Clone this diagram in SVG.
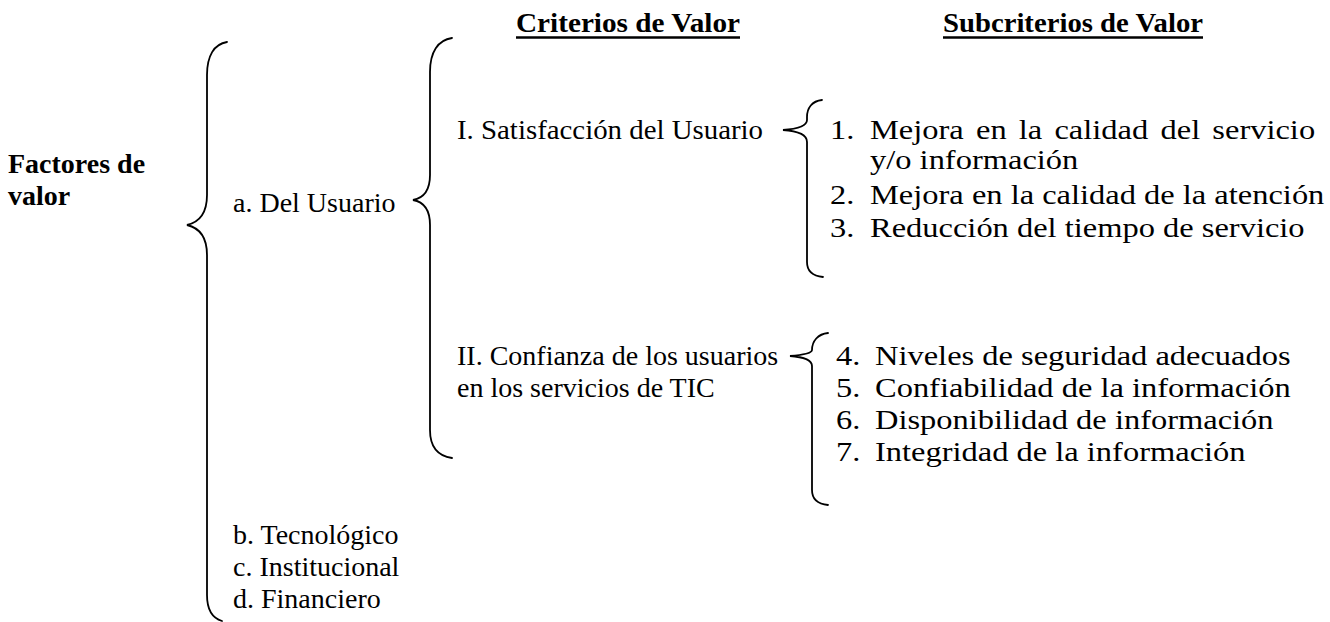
<svg xmlns="http://www.w3.org/2000/svg" width="1330" height="622" viewBox="0 0 1330 622">
<style>
text{font-family:'Liberation Serif','Times New Roman','DejaVu Serif',serif;font-size:28px;fill:#000}
.b{font-weight:bold}
.br{fill:none;stroke:#000;stroke-width:1.8;stroke-linecap:round}
.ul{stroke:#000;stroke-width:2.5}
</style>
<rect width="1330" height="622" fill="#fff"/>
<g id="headers">
<text class="b" x="516" y="32" textLength="224" lengthAdjust="spacingAndGlyphs">Criterios de Valor</text>
<line class="ul" x1="516" y1="37.5" x2="740" y2="37.5"/>
<text class="b" x="943" y="32" textLength="260" lengthAdjust="spacingAndGlyphs">Subcriterios de Valor</text>
<line class="ul" x1="943" y1="37.5" x2="1203" y2="37.5"/>
</g>
<g id="factores">
<text class="b" x="8" y="173">Factores de</text>
<text class="b" x="8" y="205">valor</text>
</g>
<g id="del-usuario">
<text x="233" y="212">a. Del Usuario</text>
</g>
<g id="otros-factores">
<text x="233" y="544">b. Tecnológico</text>
<text x="233" y="576">c. Institucional</text>
<text x="233" y="608">d. Financiero</text>
</g>
<g id="satisfaccion">
<text x="457" y="139" textLength="306" lengthAdjust="spacingAndGlyphs">I. Satisfacción del Usuario</text>
</g>
<g id="confianza">
<text x="457" y="365">II. Confianza de los usuarios</text>
<text x="457" y="397">en los servicios de TIC</text>
</g>
<g id="sub-satisfaccion" transform="translate(830,0) scale(1.16,1) translate(-830,0)">
<text x="830" y="139">1.</text>
<text y="139"><tspan x="864.5">Mejora</tspan><tspan x="955.9">en</tspan><tspan x="992.8">la</tspan><tspan x="1023.5">calidad</tspan><tspan x="1114.9">del</tspan><tspan x="1159.6">servicio</tspan></text>
<text x="864.5" y="169">y/o información</text>
<text x="830" y="204">2.</text>
<text x="864.5" y="204">Mejora en la calidad de la atención</text>
<text x="830" y="237">3.</text>
<text x="864.5" y="237">Reducción del tiempo de servicio</text>
</g>
<g id="sub-confianza" transform="translate(830,0) scale(1.16,1) translate(-830,0)">
<text x="835.2" y="365">4.</text>
<text x="868.8" y="365">Niveles de seguridad adecuados</text>
<text x="835.2" y="397">5.</text>
<text x="868.8" y="397">Confiabilidad de la información</text>
<text x="835.2" y="429">6.</text>
<text x="868.8" y="429">Disponibilidad de información</text>
<text x="835.2" y="461">7.</text>
<text x="868.8" y="461">Integridad de la información</text>
</g>
<g id="connectors">
<path class="br" d="M227,42 C214,44 207,56 207,75 L207,195 C207,212 200,222 187,225 C200,228 207,238 207,255 L207,595 C207,610 212,618 222,621"/>
<path class="br" d="M452,38 C438,40 430,52 430,72 L430,175 C430,190 424,198 413,200 C424,202 430,210 430,225 L430,430 C430,448 438,456 452,458"/>
<path class="br" d="M822,100 C812,101 807,108 807,117 L807,120 C807,126 797,129 783,130 C797,131 807,134 807,142 L807,262 C807,271 813,276 823,277"/>
<path class="br" d="M828,333 C818,334 812,341 812,350 C812,353 803,355 790,356 C803,357 812,360 812,366 L812,490 C812,499 818,504 828,505"/>
</g>
</svg>
